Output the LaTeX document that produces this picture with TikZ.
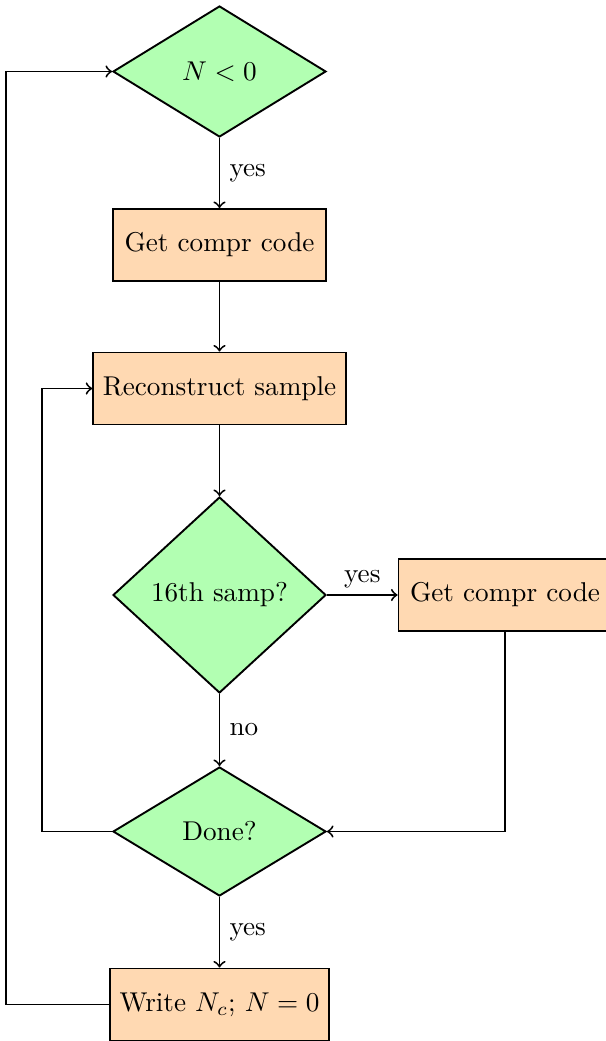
\documentclass[tikz,border=0pt]{standalone}
\usetikzlibrary{shapes.geometric}
\newcommand\PX{0.3676pt}
\begin{document}
\begin{tikzpicture}[x=0.3676pt, y=-0.3676pt, line width=0.7pt,
  decision/.style={diamond, draw, fill=green!30, inner sep=1pt,
    minimum width=213*\PX, minimum height=131*\PX},
  block/.style={rectangle, draw, fill=orange!30, inner sep=3.5pt,
    minimum width=213*\PX, minimum height=72*\PX},
  link/.style={->, line width=0.7pt}]
\useasboundingbox (0,0) rectangle (605,1041);

% main column
\node[decision] (d1) at (219.5,71.5) {$N<0$};
\node[block] (b1) at (219.5,245) {Get compr code};
\node[block] (b2) at (219.5,388.5) {Reconstruct sample};
\node[decision, minimum height=196*\PX] (d2) at (219.5,595) {16th samp?};
\node[block] (b3) at (505,595) {Get compr code};
\node[decision, minimum height=129*\PX] (d3) at (219.5,831.5) {Done?};
\node[block] (b4) at (219.5,1004.5) {Write $N_c$; $N=0$};

% x positions of the two return lines
\coordinate (outerx) at (6,0);
\coordinate (innerx) at (42,0);

\draw[link] (d1.south) -- node[right] {yes} (b1.north);
\draw[link] (b1.south) -- (b2.north);
\draw[link] (b2.south) -- (d2.north);
\draw[link] (d2.east) -- node[above, yshift=-1pt] {yes} (b3.west);
\draw[link] (d2.south) -- node[right] {no} (d3.north);
\draw[link] (b3.south) |- (d3.east);
\draw[link] (d3.west) -- (d3.west -| innerx) |- (b2.west);
\draw[link] (d3.south) -- node[right] {yes} (b4.north);
\draw[link] (b4.west) -- (b4.west -| outerx) |- (d1.west);
\end{tikzpicture}
\end{document}
